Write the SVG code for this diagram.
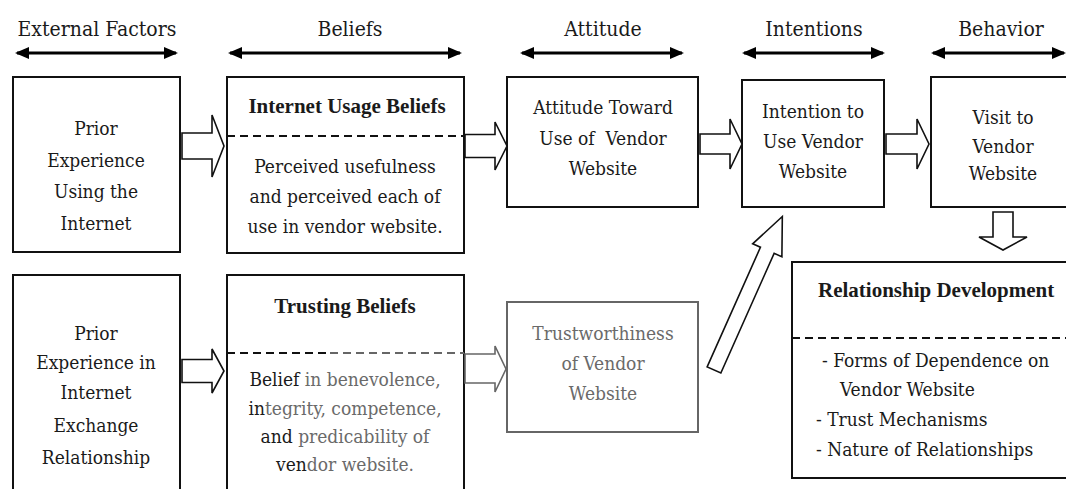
<svg xmlns="http://www.w3.org/2000/svg" width="1066" height="489" viewBox="0 0 1066 489">
<defs>
<style>
.t{font-family:"DejaVu Serif Condensed","DejaVu Serif",serif;font-stretch:condensed;font-size:19px;fill:#1a1a1a;text-anchor:middle}
.h{font-family:"DejaVu Serif Condensed","DejaVu Serif",serif;font-stretch:condensed;font-size:21px;fill:#1a1a1a;text-anchor:middle}
.b{font-family:"Liberation Serif","Times New Roman",serif;font-stretch:normal;font-size:21px;font-weight:bold}
.l{text-anchor:start}
.g{fill:#6a6a6a}
.box{fill:#fff;stroke:#111;stroke-width:2}
.gbox{fill:#fff;stroke:#666;stroke-width:2}
.dash{stroke:#111;stroke-width:2;stroke-dasharray:8 5;fill:none}
.blk{fill:#fff;stroke:#111;stroke-width:1.6;stroke-linejoin:miter}
.gblk{fill:#fff;stroke:#666;stroke-width:1.6}
.hl{stroke:#000;stroke-width:3;fill:none}
</style>
<marker id="ah" viewBox="0 0 14 12" refX="12" refY="6" markerWidth="14" markerHeight="12" markerUnits="userSpaceOnUse" orient="auto-start-reverse">
<path d="M0,0 L14,6 L0,12 Z" fill="#000"/>
</marker>
</defs>
<rect width="1066" height="489" fill="#fff"/>

<g id="headers">
<text class="h" x="97" y="36">External Factors</text>
<text class="h" x="350" y="36">Beliefs</text>
<text class="h" x="603" y="36">Attitude</text>
<text class="h" x="814" y="36">Intentions</text>
<text class="h" x="1001" y="36">Behavior</text>
<line class="hl" x1="17" y1="53" x2="176" y2="53" marker-start="url(#ah)" marker-end="url(#ah)"/>
<line class="hl" x1="230" y1="53" x2="460" y2="53" marker-start="url(#ah)" marker-end="url(#ah)"/>
<line class="hl" x1="522" y1="53" x2="682" y2="53" marker-start="url(#ah)" marker-end="url(#ah)"/>
<line class="hl" x1="744" y1="53" x2="883" y2="53" marker-start="url(#ah)" marker-end="url(#ah)"/>
<line class="hl" x1="933" y1="53" x2="1064" y2="53" marker-start="url(#ah)" marker-end="url(#ah)"/>
</g>

<g id="prior-internet">
<rect class="box" x="13" y="77" width="167" height="175"/>
<text class="t" x="96" y="135">Prior</text>
<text class="t" x="96" y="167">Experience</text>
<text class="t" x="96" y="198">Using the</text>
<text class="t" x="96" y="230">Internet</text>
</g>

<g id="internet-usage-beliefs">
<rect class="box" x="227" y="77" width="237" height="176"/>
<line class="dash" x1="227" y1="136" x2="464" y2="136"/>
<text class="t b" x="347" y="113">Internet Usage Beliefs</text>
<text class="t" x="345" y="173">Perceived usefulness</text>
<text class="t" x="345" y="203">and perceived each of</text>
<text class="t" x="345" y="233">use in vendor website.</text>
</g>

<g id="attitude">
<rect class="box" x="507" y="77" width="191" height="130"/>
<text class="t" x="603" y="114">Attitude Toward</text>
<text class="t" x="603" y="145" xml:space="preserve">Use of  Vendor</text>
<text class="t" x="603" y="175">Website</text>
</g>

<g id="intention">
<rect class="box" x="742" y="80" width="142" height="127"/>
<text class="t" x="813" y="118">Intention to</text>
<text class="t" x="813" y="148">Use Vendor</text>
<text class="t" x="813" y="178">Website</text>
</g>

<g id="visit">
<rect class="box" x="931" y="77" width="145" height="130"/>
<text class="t" x="1003" y="124">Visit to</text>
<text class="t" x="1003" y="153">Vendor</text>
<text class="t" x="1003" y="180">Website</text>
</g>

<g id="prior-exchange">
<rect class="box" x="13" y="275" width="167" height="230"/>
<text class="t" x="96" y="340">Prior</text>
<text class="t" x="96" y="369">Experience in</text>
<text class="t" x="96" y="399">Internet</text>
<text class="t" x="96" y="432">Exchange</text>
<text class="t" x="96" y="464">Relationship</text>
</g>

<g id="trusting-beliefs">
<rect class="box" x="227" y="275" width="237" height="230"/>
<line class="dash" x1="227" y1="353" x2="330" y2="353"/>
<line class="dash" x1="330" y1="353" x2="464" y2="353" style="stroke:#666"/>
<text class="t b" x="345" y="313">Trusting Beliefs</text>
<text class="t" x="345" y="386">Belief<tspan class="g"> in benevolence,</tspan></text>
<text class="t" x="345" y="415">in<tspan class="g">tegrity, competence,</tspan></text>
<text class="t" x="345" y="443">and<tspan class="g"> predicability of</tspan></text>
<text class="t" x="345" y="471">ven<tspan class="g">dor website.</tspan></text>
</g>

<g id="trustworthiness">
<rect class="gbox" x="507" y="302" width="191" height="130"/>
<text class="t g" x="603" y="340">Trustworthiness</text>
<text class="t g" x="603" y="370">of Vendor</text>
<text class="t g" x="603" y="400">Website</text>
</g>

<g id="relationship-development">
<rect class="box" x="792" y="262" width="290" height="216"/>
<line class="dash" x1="792" y1="338" x2="1066" y2="338"/>
<text class="t b l" x="818" y="297">Relationship Development</text>
<text class="t l" x="822" y="367">-  Forms of Dependence on</text>
<text class="t l" x="840" y="396">Vendor Website</text>
<text class="t l" x="816" y="426">- Trust Mechanisms</text>
<text class="t l" x="816" y="456">- Nature of Relationships</text>
</g>

<g id="connectors">
<path class="blk" d="M182,133 L212,133 L212,115 L224,146 L212,177 L212,159 L182,159 Z"/>
<path class="blk" d="M465,134.5 L495,134.5 L495,122 L507,146 L495,170 L495,157.5 L465,157.5 Z"/>
<path class="blk" d="M700,134 L730,134 L730,119 L742,144 L730,169 L730,154 L700,154 Z"/>
<path class="blk" d="M886,134 L917,134 L917,119 L929,144 L917,169 L917,154 L886,154 Z"/>
<path class="blk" d="M182,359.5 L212,359.5 L212,349 L224,371 L212,393 L212,382.5 L182,382.5 Z"/>
<path class="gblk" d="M465,354 L495,354 L495,346 L506,369 L495,392 L495,383 L465,383 Z"/>
<path class="blk" d="M993,212 L1013,212 L1013,237 L1027,237 L1003,250 L979,237 L993,237 Z"/>
<path class="blk" transform="translate(714,370) rotate(-66)" d="M0,-7.5 L131,-7.5 L131,-16 L168,0 L131,16 L131,7.5 L0,7.5 Z"/>
</g>
</svg>
